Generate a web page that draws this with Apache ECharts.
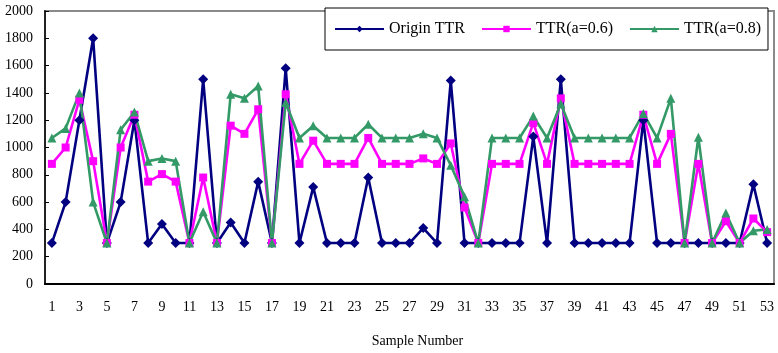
<!DOCTYPE html>
<html>
<head>
<meta charset="utf-8">
<style>
  html, body { margin: 0; padding: 0; background: #fff; }
  #chart { width: 778px; height: 353px; }
</style>
<script src="https://cdn.jsdelivr.net/npm/echarts@6/dist/echarts.min.js"></script>
</head>
<body>
<div id="chart"></div>
<script>
// Sample indices 1..53
const samples = [];
for (let i = 1; i <= 53; i++) samples.push(String(i));

const originTTR = [300, 600, 1200, 1800, 300, 600, 1200, 300, 440, 300,
  300, 1500, 300, 450, 300, 750, 300, 1580, 300, 710,
  300, 300, 300, 780, 300, 300, 300, 410, 300, 1490,
  300, 300, 300, 300, 300, 1080, 300, 1500, 300, 300,
  300, 300, 300, 1200, 300, 300, 300, 300, 300, 300,
  300, 730, 300];

const ttrA06 = [880, 1000, 1350, 900, 300, 1000, 1240, 750, 805, 750,
  300, 780, 300, 1160, 1100, 1280, 300, 1390, 880, 1050,
  880, 880, 880, 1070, 880, 880, 880, 920, 880, 1030,
  560, 300, 880, 880, 880, 1180, 880, 1360, 880, 880,
  880, 880, 880, 1240, 880, 1100, 300, 880, 300, 460,
  300, 480, 380];

const ttrA08 = [1070, 1140, 1400, 600, 300, 1130, 1260, 900, 920, 900,
  300, 530, 300, 1390, 1360, 1450, 300, 1330, 1070, 1160,
  1070, 1070, 1070, 1170, 1070, 1070, 1070, 1100, 1070, 870,
  640, 300, 1070, 1070, 1070, 1230, 1070, 1320, 1070, 1070,
  1070, 1070, 1070, 1250, 1070, 1360, 300, 1075, 300, 520,
  300, 390, 400];

const yTicks = { min: 0, max: 2000, step: 200 };

const FONT = '"Liberation Serif", "Times New Roman", serif';

const chart = echarts.init(document.getElementById('chart'), null, { renderer: 'canvas' });

function lineSeries(name, data, color, symbol, size) {
  return {
    name: name,
    type: 'line',
    data: data,
    symbol: symbol,
    symbolSize: size,
    showAllSymbol: true,
    lineStyle: { color: color, width: 2.6 },
    itemStyle: { color: color, borderWidth: 0 },
    emphasis: { disabled: true },
    animation: false
  };
}

chart.setOption({
  backgroundColor: '#fff',
  animation: false,
  grid: {
    left: 45, right: 4, top: 11, bottom: 60,
    show: true,
    borderColor: '#8a8a8a',
    borderWidth: 2,
    backgroundColor: 'transparent'
  },
  legend: {
    left: 325, top: 8,
    padding: [13, 7, 13, 9],
    itemGap: 16,
    itemWidth: 49,
    itemHeight: 8,
    backgroundColor: '#fff',
    borderColor: '#000',
    borderWidth: 1,
    borderRadius: 0,
    textStyle: { fontFamily: FONT, fontSize: 16, color: '#000' },
    data: ['Origin TTR', 'TTR(a=0.6)', 'TTR(a=0.8)']
  },
  xAxis: {
    type: 'category',
    data: samples,
    boundaryGap: true,
    name: 'Sample Number',
    nameLocation: 'middle',
    nameGap: 50,
    nameTextStyle: { fontFamily: FONT, fontSize: 14, color: '#000', padding: [0, 0, 0, 16] },
    axisLine: { lineStyle: { color: '#000', width: 2 } },
    axisTick: { inside: true, length: 4, interval: 0, lineStyle: { color: '#000', width: 1 } },
    axisLabel: { interval: 1, margin: 16, fontFamily: FONT, fontSize: 14, color: '#000' },
    splitLine: { show: false }
  },
  yAxis: {
    type: 'value',
    min: yTicks.min, max: yTicks.max, interval: yTicks.step,
    axisLine: { show: true, lineStyle: { color: '#222', width: 2 } },
    axisTick: { show: true, inside: true, length: 4, lineStyle: { color: '#000', width: 1 } },
    axisLabel: { margin: 12, fontFamily: FONT, fontSize: 14, color: '#000', formatter: function (v) { return String(v); } },
    splitLine: { show: false }
  },
  series: [
    lineSeries('Origin TTR', originTTR, '#000080', 'diamond', 10),
    lineSeries('TTR(a=0.6)', ttrA06, '#ff00ff', 'rect', 8),
    lineSeries('TTR(a=0.8)', ttrA08, '#339966', 'triangle', 9)
  ]
});
</script>
</body>
</html>
